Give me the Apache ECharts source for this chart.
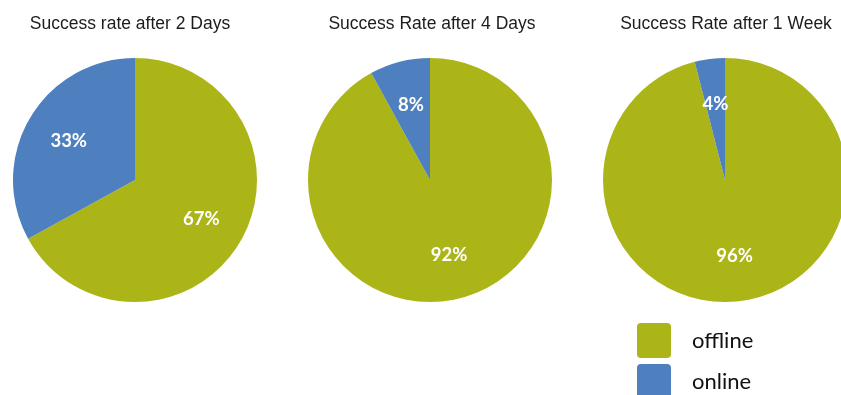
<!DOCTYPE html>
<html>
<head>
<meta charset="utf-8">
<script src="https://cdn.jsdelivr.net/npm/echarts@6/dist/echarts.min.js"></script>
<style>
  html, body { margin: 0; padding: 0; background: #fff; }
  #chart { width: 841px; height: 395px; }
</style>
</head>
<body>
<div id="chart"></div>
<script>
// Share of successful runs per period, split by mode
const periods = ['Success rate after 2 Days', 'Success Rate after 4 Days', 'Success Rate after 1 Week'];
const categories = ['offline', 'online'];
const offlineValues = [67, 92, 96];
const onlineValues = [33, 8, 4];
const palette = { offline: '#abb518', online: '#4e80bf' };

const centersX = [135, 430, 725];
const titleX = [125, 427, 721];
const centerY = 180;
const pieRadius = 122;

const chart = echarts.init(document.getElementById('chart'));

const pieData = (i) => [
  { name: categories[0], value: offlineValues[i], itemStyle: { color: palette.offline } },
  { name: categories[1], value: onlineValues[i], itemStyle: { color: palette.online } }
];

const series = [];
// Filled pies
periods.forEach((p, i) => {
  series.push({
    type: 'pie',
    name: p,
    center: [centersX[i], centerY],
    radius: [0, pieRadius],
    startAngle: 90,
    clockwise: true,
    silent: true,
    animation: false,
    label: { show: false },
    labelLine: { show: false },
    data: pieData(i)
  });
});
// Transparent ring that carries the percentage labels a bit further out
periods.forEach((p, i) => {
  series.push({
    type: 'pie',
    name: p + ' labels',
    center: [centersX[i], centerY],
    radius: [26, pieRadius],
    startAngle: 90,
    clockwise: true,
    silent: true,
    animation: false,
    itemStyle: { color: 'rgba(0,0,0,0)' },
    label: {
      show: true,
      position: 'inside',
      formatter: '{c}%',
      color: '#ffffff',
      fontFamily: 'Lato',
      fontWeight: 'bold',
      fontSize: 18.5
    },
    labelLine: { show: false },
    data: pieData(i).map(d => ({ name: d.name, value: d.value }))
  });
});

const swatch = 'path://M4,0 H30 A4,4 0 0 1 34,4 V31 A4,4 0 0 1 30,35 H4 A4,4 0 0 1 0,31 V4 A4,4 0 0 1 4,0 Z';
const legendTops = [323, 364];

chart.setOption({
  backgroundColor: '#ffffff',
  title: periods.map((p, i) => ({
    text: p,
    left: titleX[i],
    top: 10,
    textAlign: 'center',
    textStyle: {
      fontFamily: 'Liberation Sans',
      fontWeight: 'normal',
      fontSize: 17.5,
      color: '#1c1c1c'
    }
  })),
  legend: categories.map((c, k) => ({
    orient: 'vertical',
    left: 637,
    top: legendTops[k],
    padding: 0,
    itemWidth: 34,
    itemHeight: 35,
    icon: swatch,
    selectedMode: false,
    data: [{ name: c, itemStyle: { color: palette[c] } }],
    textStyle: {
      fontFamily: 'Lato',
      fontSize: 22,
      color: '#111111',
      padding: [2, 0, 0, 16]
    }
  })),
  series: series
});
</script>
</body>
</html>
